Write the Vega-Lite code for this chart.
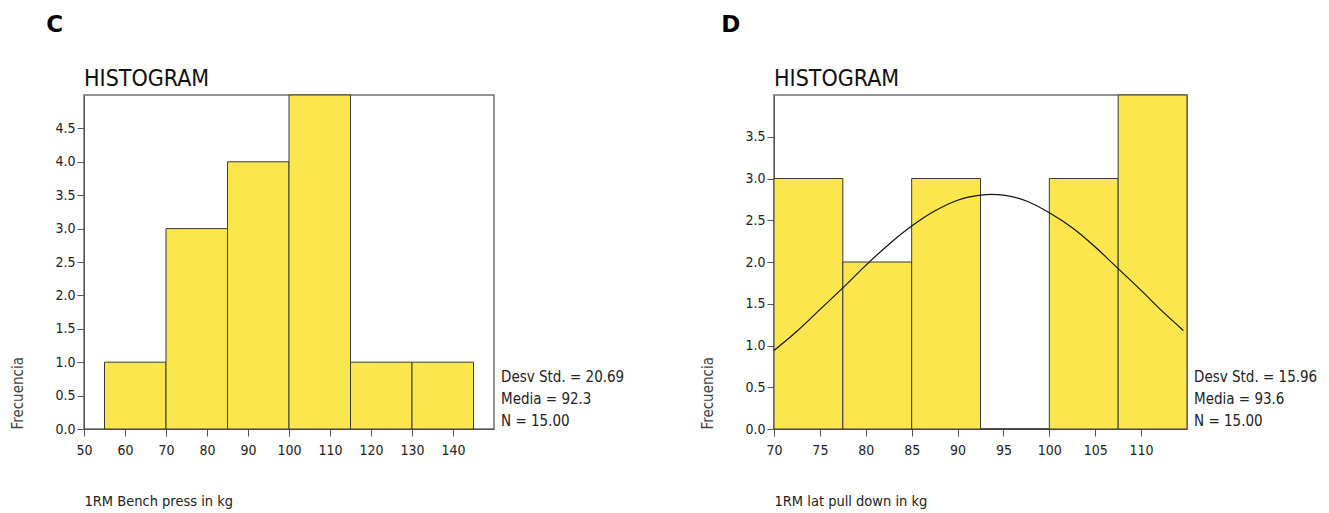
{
  "$schema": "https://vega.github.io/schema/vega-lite/v6.json",
  "background": "white",
  "padding": {"left": 10, "top": 13, "right": 5, "bottom": 5},
  "spacing": 75,
  "config": {
    "font": "DejaVu Sans Condensed, DejaVu Sans",
    "view": {"stroke": "#707070", "strokeWidth": 1.5},
    "axis": {
      "grid": false,
      "domainColor": "#555555",
      "tickColor": "#555555",
      "labelColor": "#222222",
      "labelFontSize": 14,
      "titleColor": "#444444",
      "titleFontWeight": "normal",
      "labelFlush": false,
      "labelOverlap": false
    },
    "axisY": {"tickSize": 7, "labelPadding": 2, "titleFontSize": 15, "titleAnchor": "start", "titlePadding": 29},
    "axisX": {"tickSize": 7, "labelPadding": 7, "titleFontSize": 14.5, "titleAnchor": "start", "titlePadding": 37, "titleColor": "#222222"}
  },
  "hconcat": [
    {
      "title": {"text": "C", "anchor": "start", "fontSize": 23, "fontWeight": "bold", "font": "DejaVu Sans", "color": "black", "dx": 36, "offset": 30},
      "vconcat": [
        {
          "title": {"text": "HISTOGRAM", "anchor": "start", "frame": "group", "fontSize": 23, "fontWeight": "normal", "color": "#111111", "offset": 4},
          "width": 410,
          "height": 334,
          "layer": [
            {
              "data": {"values": [
                {"lo": 55, "hi": 70, "count": 1},
                {"lo": 70, "hi": 85, "count": 3},
                {"lo": 85, "hi": 100, "count": 4},
                {"lo": 100, "hi": 115, "count": 5},
                {"lo": 115, "hi": 130, "count": 1},
                {"lo": 130, "hi": 145, "count": 1}
              ]},
              "mark": {"type": "rect", "fill": "#FBE64D", "stroke": "#3a3a3a", "strokeWidth": 1},
              "encoding": {
                "x": {"field": "lo", "type": "quantitative", "scale": {"domain": [50, 150], "nice": false, "zero": false},
                      "axis": {"values": [50, 60, 70, 80, 90, 100, 110, 120, 130, 140], "format": "d", "title": "1RM Bench press in kg", "labelFontSize": 14}},
                "x2": {"field": "hi"},
                "y": {"field": "count", "type": "quantitative", "scale": {"domain": [0, 5], "nice": false},
                      "axis": {"values": [0, 0.5, 1, 1.5, 2, 2.5, 3, 3.5, 4, 4.5], "format": ".1f", "title": "Frecuencia", "labelFontSize": 14}},
                "y2": {"datum": 0}
              }
            },
            {
              "data": {"values": [{"panel": "C"}]},
              "mark": {"type": "text", "align": "left", "baseline": "top", "dx": 7, "fontSize": 15, "lineHeight": 22, "lineBreak": "\n", "color": "#222222", "clip": false},
              "encoding": {
                "x": {"datum": 150, "type": "quantitative",
                      "axis": {"values": [50, 60, 70, 80, 90, 100, 110, 120, 130, 140], "format": "d", "title": "1RM Bench press in kg", "labelFontSize": 14}},
                "y": {"datum": 0.89, "type": "quantitative",
                      "axis": {"values": [0, 0.5, 1, 1.5, 2, 2.5, 3, 3.5, 4, 4.5], "format": ".1f", "title": "Frecuencia", "labelFontSize": 14}},
                "text": {"value": "Desv Std. = 20.69\nMedia = 92.3\nN = 15.00"}
              }
            }
          ]
        }
      ]
    },
    {
      "title": {"text": "D", "anchor": "start", "fontSize": 23, "fontWeight": "bold", "font": "DejaVu Sans", "color": "black", "dx": 21, "offset": 30},
      "vconcat": [
        {
          "title": {"text": "HISTOGRAM", "anchor": "start", "frame": "group", "fontSize": 23, "fontWeight": "normal", "color": "#111111", "offset": 4},
          "width": 413,
          "height": 334,
          "layer": [
            {
              "data": {"values": [
                {"lo": 70, "hi": 77.5, "count": 3},
                {"lo": 77.5, "hi": 85, "count": 2},
                {"lo": 85, "hi": 92.5, "count": 3},
                {"lo": 92.5, "hi": 100, "count": 0},
                {"lo": 100, "hi": 107.5, "count": 3},
                {"lo": 107.5, "hi": 115, "count": 4}
              ]},
              "mark": {"type": "rect", "fill": "#FBE64D", "stroke": "#3a3a3a", "strokeWidth": 1},
              "encoding": {
                "x": {"field": "lo", "type": "quantitative", "scale": {"domain": [70, 115], "nice": false, "zero": false},
                      "axis": {"values": [70, 75, 80, 85, 90, 95, 100, 105, 110], "format": "d", "title": "1RM lat pull down in kg", "labelFontSize": 14}},
                "x2": {"field": "hi"},
                "y": {"field": "count", "type": "quantitative", "scale": {"domain": [0, 4], "nice": false},
                      "axis": {"values": [0, 0.5, 1, 1.5, 2, 2.5, 3, 3.5], "format": ".1f", "title": "Frecuencia", "labelFontSize": 14}},
                "y2": {"datum": 0}
              }
            },
            {
              "data": {"values": [
                {"kg": 70, "freq": 0.94},
                {"kg": 72.5, "freq": 1.17},
                {"kg": 75, "freq": 1.43},
                {"kg": 77.5, "freq": 1.69},
                {"kg": 80, "freq": 1.96},
                {"kg": 82.5, "freq": 2.21},
                {"kg": 85, "freq": 2.43},
                {"kg": 87.5, "freq": 2.61},
                {"kg": 90, "freq": 2.74},
                {"kg": 92.5, "freq": 2.8},
                {"kg": 93.6, "freq": 2.81},
                {"kg": 95, "freq": 2.8},
                {"kg": 97.5, "freq": 2.73},
                {"kg": 100, "freq": 2.59},
                {"kg": 102.5, "freq": 2.41},
                {"kg": 105, "freq": 2.18},
                {"kg": 107.5, "freq": 1.92},
                {"kg": 110, "freq": 1.66},
                {"kg": 112.5, "freq": 1.39},
                {"kg": 114.6, "freq": 1.18}
              ]},
              "mark": {"type": "line", "color": "#111111", "strokeWidth": 1.2, "interpolate": "monotone"},
              "encoding": {
                "x": {"field": "kg", "type": "quantitative",
                      "axis": {"values": [70, 75, 80, 85, 90, 95, 100, 105, 110], "format": "d", "title": "1RM lat pull down in kg", "labelFontSize": 14}},
                "y": {"field": "freq", "type": "quantitative",
                      "axis": {"values": [0, 0.5, 1, 1.5, 2, 2.5, 3, 3.5], "format": ".1f", "title": "Frecuencia", "labelFontSize": 14}}
              }
            },
            {
              "data": {"values": [{"panel": "D"}]},
              "mark": {"type": "text", "align": "left", "baseline": "top", "dx": 7, "fontSize": 15, "lineHeight": 22, "lineBreak": "\n", "color": "#222222", "clip": false},
              "encoding": {
                "x": {"datum": 115, "type": "quantitative",
                      "axis": {"values": [70, 75, 80, 85, 90, 95, 100, 105, 110], "format": "d", "title": "1RM lat pull down in kg", "labelFontSize": 14}},
                "y": {"datum": 0.71, "type": "quantitative",
                      "axis": {"values": [0, 0.5, 1, 1.5, 2, 2.5, 3, 3.5], "format": ".1f", "title": "Frecuencia", "labelFontSize": 14}},
                "text": {"value": "Desv Std. = 15.96\nMedia = 93.6\nN = 15.00"}
              }
            }
          ]
        }
      ]
    }
  ]
}
